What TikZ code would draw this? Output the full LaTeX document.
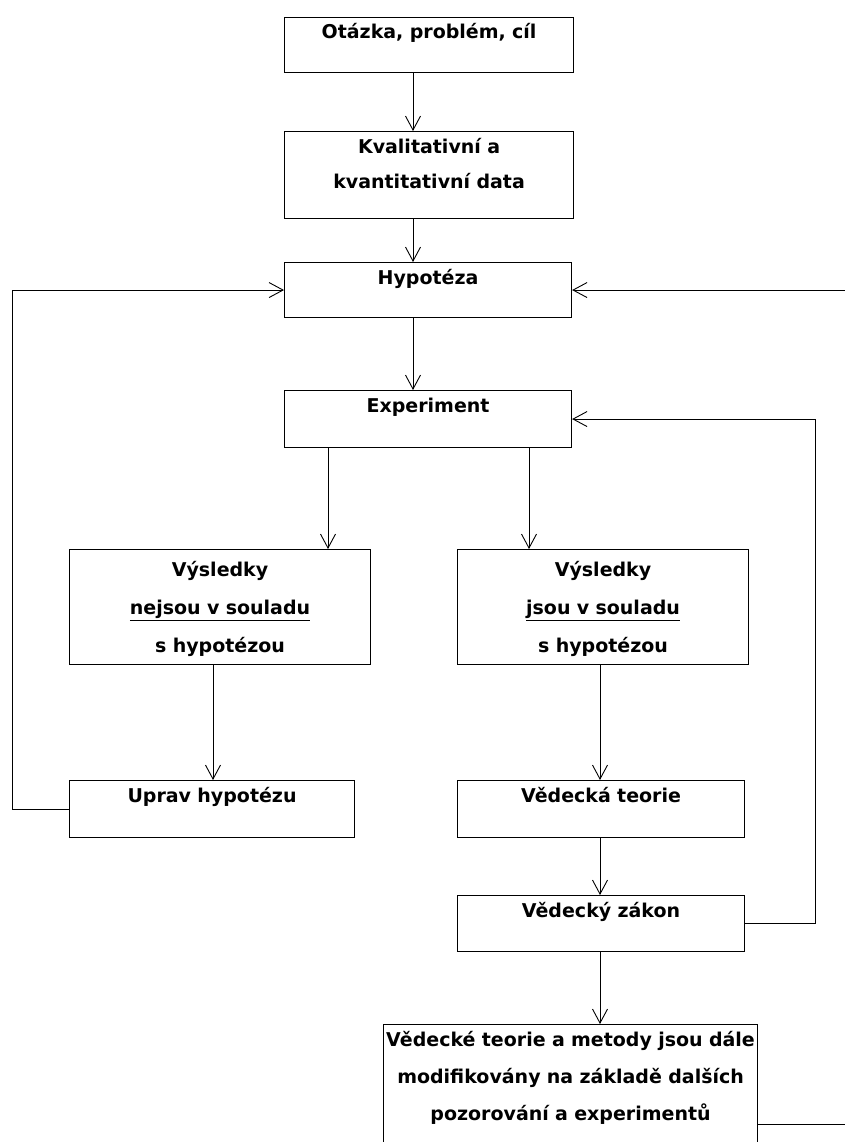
\documentclass[tikz,border=0pt]{standalone}
\usepackage{fontspec}
\setmainfont{DejaVu Sans}
\usepackage{tikz}
\usetikzlibrary{arrows.meta, positioning, calc}

\begin{document}
\begin{tikzpicture}[x = 1pt, y = -1pt,
		box/.style = {draw, line width = 1.1pt, inner sep = 0pt, anchor = north west, align = center, font = \bfseries\fontsize{19}{23}\selectfont},
		arr/.style = {line width = 0.9pt, -{Straight Barb[length = 14pt, width = 15pt]}},
		lin/.style = {line width = 0.9pt}]
		\clip (0,0) rectangle (845,1142);
		% x positions of the connectors
		\coordinate (ax) at (413,0);
		\coordinate (axl) at (328,0);
		\coordinate (axr) at (529,0);
		\coordinate (axll) at (213,0);
		\coordinate (axrr) at (600,0);
		\coordinate (fbl) at (12,0);
		\coordinate (fbr) at (815,0);
		\coordinate (fbo) at (880,0);
		% boxes
		\node[box, text width = 289pt, text height = 21pt, text depth = 34pt] (otazka) at (284,17) {Otázka, problém, cíl};
		\node[box, text width = 289pt, text height = 22pt, text depth = 65pt, font = \bfseries\fontsize{19}{35}\selectfont] (data) at (284,131) {Kvalitativní a\\kvantitativní data};
		\node[box, text width = 287pt, text height = 22pt, text depth = 33pt] (hyp) at (284,262) {Hypotéza};
		\node[box, text width = 287pt, text height = 22pt, text depth = 35pt] (exp) at (284,390) {Experiment};
		\node[box, text width = 301pt, text height = 27pt, text depth = 88pt, font = \bfseries\fontsize{19}{38}\selectfont] (resL) at (69,549) {Výsledky\\\underline{nejsou v souladu}\\s hypotézou};
		\node[box, text width = 291pt, text height = 27pt, text depth = 88pt, font = \bfseries\fontsize{19}{38}\selectfont] (resR) at (457,549) {Výsledky\\\underline{jsou v souladu}\\s hypotézou};
		\node[box, text width = 285pt, text height = 22pt, text depth = 35pt] (uprav) at (69,780) {Uprav hypotézu};
		\node[box, text width = 287pt, text height = 22pt, text depth = 35pt] (teorie) at (457,780) {Vědecká teorie};
		\node[box, text width = 287pt, text height = 22pt, text depth = 34pt] (zakon) at (457,895) {Vědecký zákon};
		\node[box, text width = 374pt, text height = 22pt, text depth = 178pt, font = \bfseries\fontsize{19}{37}\selectfont] (final) at (383,1024) {Vědecké teorie a metody jsou dále\\modifikovány na základě dalších\\pozorování a experimentů};
		% main flow
		\draw[arr] (otazka.south -| ax) -- (data.north -| ax);
		\draw[arr] (data.south -| ax) -- (hyp.north -| ax);
		\draw[arr] (hyp.south -| ax) -- (exp.north -| ax);
		\draw[arr] (exp.south -| axl) -- (resL.north -| axl);
		\draw[arr] (exp.south -| axr) -- (resR.north -| axr);
		\draw[arr] (resL.south -| axll) -- (uprav.north -| axll);
		\draw[arr] (resR.south -| axrr) -- (teorie.north -| axrr);
		\draw[arr] (teorie.south -| axrr) -- (zakon.north -| axrr);
		\draw[arr] (zakon.south -| axrr) -- (final.north -| axrr);
		% feedback loops
		\draw[arr] (uprav.west) -- (uprav.west -| fbl) -- (hyp.west -| fbl) -- (hyp.west);
		\draw[arr] (zakon.east) -- (zakon.east -| fbr) -- (exp.east -| fbr) -- (exp.east);
		\draw[arr] (final.east) -- (final.east -| fbo) -- (hyp.east -| fbo) -- (hyp.east);
\end{tikzpicture}
\end{document}
